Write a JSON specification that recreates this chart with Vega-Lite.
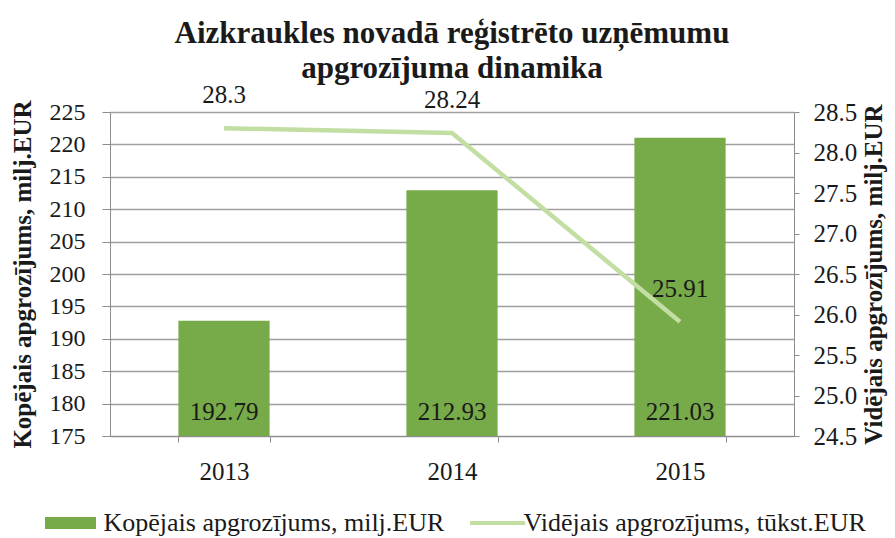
{
  "$schema": "https://vega.github.io/schema/vega-lite/v6.json",
  "width": 684,
  "height": 324,
  "padding": {"left": 10, "top": 18, "right": 5, "bottom": 2},
  "background": "white",
  "title": {
    "text": ["Aizkraukles novadā reģistrēto uzņēmumu", "apgrozījuma dinamika"],
    "font": "Liberation Serif",
    "fontSize": 31,
    "fontWeight": "bold",
    "color": "#1a1a1a",
    "lineHeight": 35,
    "offset": -2,
    "anchor": "middle"
  },
  "data": {
    "values": [
      {"year": "2013", "total": 192.79, "avg": 28.3},
      {"year": "2014", "total": 212.93, "avg": 28.24},
      {"year": "2015", "total": 221.03, "avg": 25.91}
    ]
  },
  "encoding": {
    "x": {
      "field": "year", "type": "ordinal", "title": null,
      "scale": {"paddingInner": 0.6, "paddingOuter": 0.3},
      "axis": {"labelAngle": 0, "labelPadding": 17, "labelFontSize": 25, "tickBand": "extent", "tickSize": 6, "grid": false}
    }
  },
  "layer": [
    {
      "layer": [
        {
          "mark": {"type": "bar", "color": "#77aa48", "clip": true},
          "encoding": {
            "y": {
              "field": "total", "type": "quantitative",
              "title": "Kopējais apgrozījums, milj.EUR",
              "scale": {"domain": [175, 225], "zero": false, "nice": false},
              "axis": {"orient": "left", "grid": true}
            },
            "color": {
              "datum": "Kopējais apgrozījums, milj.EUR",
              "scale": {"range": ["#77aa48"]},
              "legend": {"orient": "bottom", "title": null, "symbolType": "M-4.25,-1H4.25V1H-4.25Z", "symbolSize": 144, "symbolOffset": 19.5, "labelOffset": 20, "symbolStrokeWidth": 0}
            }
          }
        },
        {
          "mark": {"type": "text", "baseline": "middle", "dy": -24},
          "encoding": {
            "y": {"datum": 175, "type": "quantitative", "title": "Kopējais apgrozījums, milj.EUR", "axis": {"orient": "left", "grid": true}},
            "text": {"field": "total", "type": "quantitative", "format": ".2f"}
          }
        }
      ]
    },
    {
      "layer": [
        {
          "mark": {"type": "line", "color": "#c2dea2", "strokeWidth": 4.5},
          "encoding": {
            "y": {
              "field": "avg", "type": "quantitative",
              "title": "Vidējais apgrozījums, milj.EUR",
              "scale": {"domain": [24.5, 28.5], "zero": false, "nice": false},
              "axis": {"orient": "right", "grid": false}
            },
            "color": {
              "datum": "Vidējais apgrozījums, tūkst.EUR",
              "scale": {"range": ["#c2dea2"]},
              "legend": {"orient": "bottom", "title": null, "symbolType": "M-4.6,-0.35H4.6V0.35H-4.6Z", "symbolSize": 144, "symbolOffset": 21.6, "labelOffset": 13, "symbolFillColor": "#c2dea2", "symbolStrokeWidth": 0}
            }
          }
        },
        {
          "mark": {"type": "text", "baseline": "middle", "dy": -33},
          "encoding": {
            "y": {"field": "avg", "type": "quantitative", "title": "Vidējais apgrozījums, milj.EUR", "axis": {"orient": "right", "grid": false}},
            "text": {"field": "avg", "type": "quantitative", "format": "~g"}
          }
        }
      ]
    }
  ],
  "resolve": {"scale": {"y": "independent", "color": "independent"}, "legend": {"color": "independent"}},
  "config": {
    "font": "Liberation Serif",
    "view": {"stroke": null},
    "text": {"font": "Liberation Serif", "fontSize": 25, "color": "#1a1a1a"},
    "axis": {
      "labelFont": "Liberation Serif", "labelFontSize": 24, "labelColor": "#1a1a1a",
      "titleFont": "Liberation Serif", "titleFontSize": 25, "titleFontWeight": "bold", "titleColor": "#1a1a1a",
      "domainColor": "#8c8c8c", "tickColor": "#8c8c8c", "gridColor": "#a0a0a0", "gridWidth": 1.3, "labelOverlap": false
    },
    "axisLeft": {"tickCount": 10, "tickSize": 8, "labelPadding": 17, "titlePadding": 14},
    "axisRight": {"tickCount": 8, "tickSize": 5, "labelPadding": 14, "labelFontSize": 25, "titlePadding": 5, "titleAngle": 270, "titleBaseline": "top"},
    "legend": {
      "labelFont": "Liberation Serif", "labelFontSize": 26, "labelColor": "#1a1a1a", "labelLimit": 0, "offset": 26,
      "layout": {"bottom": {"anchor": "middle", "direction": "horizontal", "center": true, "margin": 18}}
    }
  }
}
